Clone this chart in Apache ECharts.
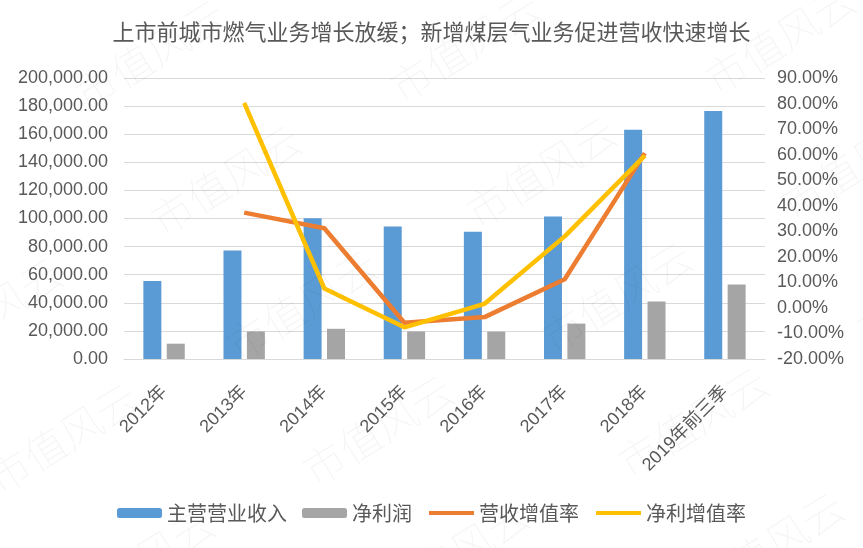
<!DOCTYPE html>
<html>
<head>
<meta charset="utf-8">
<script src="https://cdn.jsdelivr.net/npm/echarts@6/dist/echarts.min.js"></script>
<style>
  html, body { margin: 0; padding: 0; background: #fff; }
  #main { width: 863px; height: 548px; }
</style>
</head>
<body>
<div id="main"></div>
<script>
// 数据
var categories = ['2012年', '2013年', '2014年', '2015年', '2016年', '2017年', '2018年', '2019年前三季'];
var revenue = [55500, 77300, 100200, 94300, 90600, 101400, 163200, 176500];   // 主营营业收入
var netProfit = [10900, 19600, 21500, 19600, 19500, 25200, 41000, 53100];     // 净利润
var revenueGrowth = [null, 37.3, 31.2, -5.8, -3.6, 11.2, 60.6, null];           // 营收增值率 %
var profitGrowth = [null, 80.3, 7.6, -7.6, 1.6, 28.0, 59.6, null];              // 净利增值率 %

var textColor = '#595959';
var numFont = '"Liberation Sans", "Noto Sans CJK SC", sans-serif';
var cjkFont = '"Noto Sans CJK SC", sans-serif';

// 水印 "市值风云"
var watermarks = [];
for (var i = -1; i <= 2; i++) {
    for (var j = -1; j <= 4; j++) {
        var x = 150 + 315 * i + 76 * j;
        var y = 55 - 8 * i + 125 * j;
        if (x < -120 || x > 980 || y < -60 || y > 620) continue;
        watermarks.push({
            type: 'text',
            x: x,
            y: y,
            rotation: 0.56,
            silent: true,
            z: 100,
            style: {
                text: '市值风云',
                font: '100 42px "Noto Sans CJK SC"',
                fill: 'rgba(0,0,0,0.045)',
                align: 'center',
                verticalAlign: 'middle'
            }
        });
    }
}

function myEcharts() {
    var chart = echarts.init(document.getElementById('main'));
    var option = {
        backgroundColor: '#fff',
        animation: false,
        title: {
            text: '上市前城市燃气业务增长放缓；新增煤层气业务促进营收快速增长',
            left: 'center',
            top: 16,
            textStyle: {
                fontSize: 22,
                fontWeight: 'normal',
                color: textColor,
                fontFamily: cjkFont
            }
        },
        legend: {
            bottom: 20,
            left: 'center',
            itemWidth: 45,
            itemHeight: 10,
            itemGap: 15,
            textStyle: { fontSize: 20, color: textColor, fontFamily: cjkFont },
            data: [
                '主营营业收入',
                '净利润',
                { name: '营收增值率', itemStyle: { opacity: 0 }, lineStyle: { width: 4 } },
                { name: '净利增值率', itemStyle: { opacity: 0 }, lineStyle: { width: 4 } }
            ]
        },
        grid: {
            left: 124,
            right: 98,
            top: 78,
            bottom: 189
        },
        xAxis: {
            type: 'category',
            data: categories,
            axisLine: { lineStyle: { color: '#d9d9d9', width: 1 } },
            axisTick: { show: false },
            axisLabel: {
                rotate: 45,
                interval: 0,
                margin: 30,
                fontSize: 18,
                color: textColor,
                fontFamily: numFont
            }
        },
        yAxis: [
            {
                type: 'value',
                min: 0,
                max: 200000,
                interval: 20000,
                axisLine: { show: false },
                axisTick: { show: false },
                splitLine: { lineStyle: { color: '#d9d9d9', width: 1 } },
                axisLabel: {
                    margin: 16,
                    fontSize: 18,
                    color: textColor,
                    fontFamily: numFont,
                    formatter: function (v) {
                        return v.toLocaleString('en-US', { minimumFractionDigits: 2, maximumFractionDigits: 2 });
                    }
                }
            },
            {
                type: 'value',
                min: -20,
                max: 90,
                interval: 10,
                axisLine: { show: false },
                axisTick: { show: false },
                splitLine: { show: false },
                axisLabel: {
                    margin: 12,
                    fontSize: 18,
                    color: textColor,
                    fontFamily: numFont,
                    formatter: function (v) { return v.toFixed(2) + '%'; }
                }
            }
        ],
        series: [
            {
                name: '主营营业收入',
                type: 'bar',
                data: revenue,
                barWidth: 18,
                barGap: '30%',
                itemStyle: { color: '#5b9bd5' }
            },
            {
                name: '净利润',
                type: 'bar',
                data: netProfit,
                barWidth: 18,
                itemStyle: { color: '#a5a5a5' }
            },
            {
                name: '营收增值率',
                type: 'line',
                yAxisIndex: 1,
                data: revenueGrowth,
                symbol: 'none',
                lineStyle: { color: '#ed7d31', width: 4.5, join: 'round' },
                itemStyle: { color: '#ed7d31' }
            },
            {
                name: '净利增值率',
                type: 'line',
                yAxisIndex: 1,
                data: profitGrowth,
                symbol: 'none',
                lineStyle: { color: '#ffc000', width: 4.5, join: 'round' },
                itemStyle: { color: '#ffc000' }
            }
        ],
        graphic: watermarks
    };
    chart.setOption(option);
}

myEcharts();
</script>
</body>
</html>
